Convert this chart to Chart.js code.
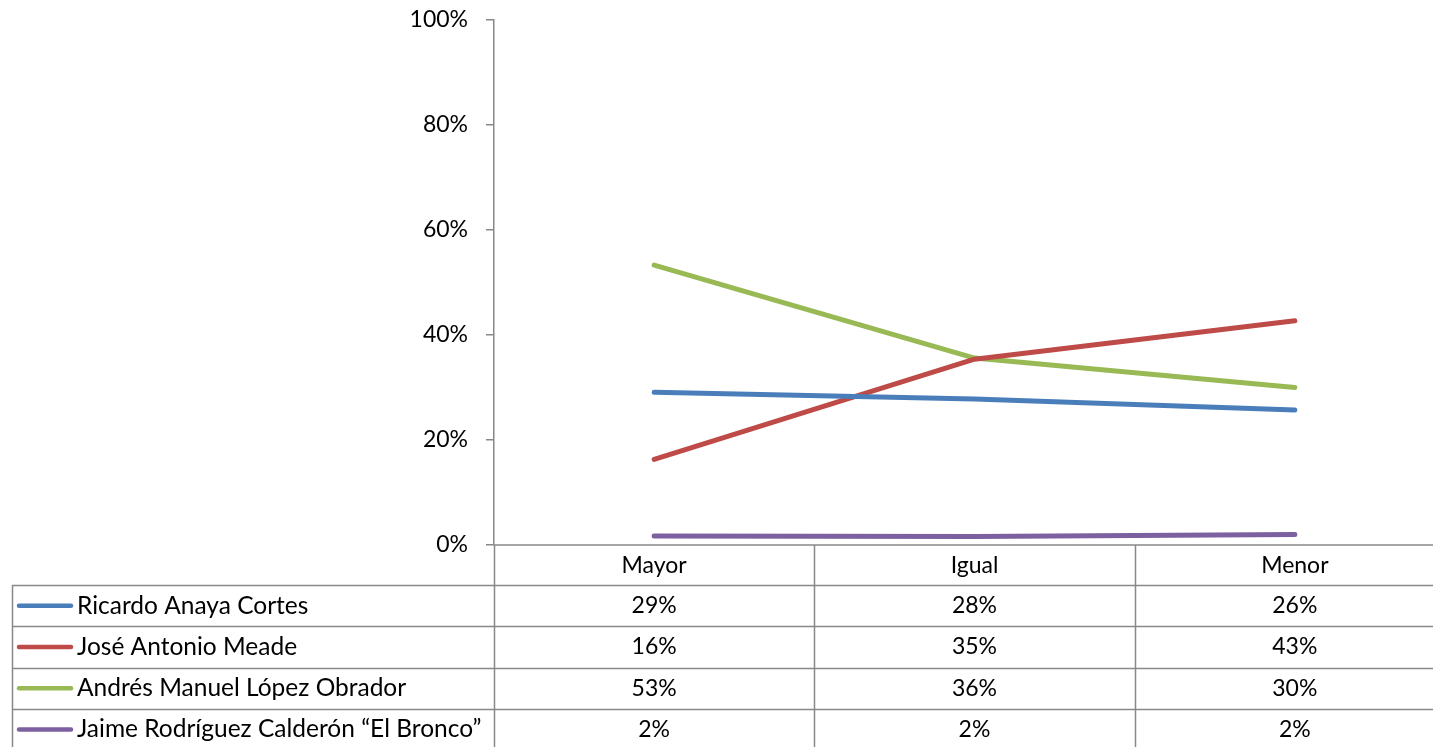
<!DOCTYPE html>
<html>
<head>
<meta charset="utf-8">
<script src="https://cdn.jsdelivr.net/npm/chart.js@4.4.1/dist/chart.umd.min.js"></script>
<style>
  html, body { margin: 0; padding: 0; background: #ffffff; overflow: hidden; }
  #chart-container { width: 1460px; height: 747px; }
</style>
</head>
<body>
<div id="chart-container"><canvas id="chart" width="1460" height="747"></canvas></div>
<script>
// categories and series (percent)
var categories = ['Mayor', 'Igual', 'Menor'];
var seriesNames = ['Ricardo Anaya Cortes', 'José Antonio Meade', 'Andrés Manuel López Obrador', 'Jaime Rodríguez Calderón “El Bronco”'];
var anaya = [29.1, 27.8, 25.7];
var meade = [16.3, 35.4, 42.7];
var amlo = [53.3, 35.6, 30.0];
var bronco = [1.7, 1.6, 2.0];
var yTicks = [0, 20, 40, 60, 80, 100];
var colors = ['#4a7ebb', '#be4b48', '#98b954', '#7d60a0'];

var FONT = 'Lato, "Open Sans", sans-serif';
var GRID = '#888888';

var allSeries = [anaya, meade, amlo, bronco];

// draws the data table below the plot (Excel style)
var dataTablePlugin = {
  id: 'dataTable',
  afterDraw: function(chart) {
    var ctx = chart.ctx;
    var area = chart.chartArea;
    var xs = chart.scales.x;
    var top = area.bottom;
    var rowH = 41.2;
    var tableLeft = 12;
    var band = xs.getPixelForValue(1) - xs.getPixelForValue(0);

    ctx.save();
    ctx.strokeStyle = GRID;
    ctx.lineWidth = 1.5;

    // horizontal lines
    ctx.beginPath();
    ctx.moveTo(area.left, top);
    ctx.lineTo(area.right, top);
    for (var r = 1; r <= 4; r++) {
      var y = Math.round(top - 1 + r * rowH) + 0.5;
      ctx.moveTo(tableLeft, y);
      ctx.lineTo(area.right, y);
    }
    // vertical lines
    ctx.moveTo(tableLeft + 0.5, top + rowH - 1);
    ctx.lineTo(tableLeft + 0.5, chart.height);
    for (var c = 0; c < categories.length; c++) {
      var xb = Math.round(xs.getPixelForValue(c) - band / 2) + 0.5;
      ctx.moveTo(xb, top);
      ctx.lineTo(xb, chart.height);
    }
    ctx.stroke();

    ctx.fillStyle = '#000000';
    ctx.textAlign = 'center';
    ctx.textBaseline = 'middle';
    ctx.font = '23px ' + FONT;
    categories.forEach(function(cat, i) {
      ctx.fillText(cat, xs.getPixelForValue(i), top + rowH / 2);
    });

    seriesNames.forEach(function(name, s) {
      var cy = top - 1 + (s + 1) * rowH + rowH / 2;
      // legend key
      ctx.strokeStyle = colors[s];
      ctx.lineWidth = 4.5;
      ctx.lineCap = 'round';
      ctx.beginPath();
      ctx.moveTo(19, cy);
      ctx.lineTo(71, cy);
      ctx.stroke();
      ctx.textAlign = 'left';
      ctx.font = '24.5px ' + FONT;
      ctx.fillText(name, 77, cy);
      ctx.textAlign = 'center';
      ctx.font = '23px ' + FONT;
      allSeries[s].forEach(function(v, i) {
        ctx.fillText(Math.round(v) + '%', xs.getPixelForValue(i), cy);
      });
    });
    ctx.restore();
  }
};

var ctx = document.getElementById('chart').getContext('2d');
var chart = new Chart(ctx, {
  type: 'line',
  data: {
    labels: categories,
    datasets: seriesNames.map(function(name, s) {
      return {
        label: name,
        data: allSeries[s],
        borderColor: colors[s],
        backgroundColor: colors[s],
        borderWidth: 5,
        borderCapStyle: 'round',
        borderJoinStyle: 'round',
        pointRadius: 0,
        tension: 0
      };
    })
  },
  options: {
    responsive: false,
    animation: false,
    layout: { padding: { top: 20, bottom: 202, left: 0, right: 5 } },
    plugins: {
      legend: { display: false },
      tooltip: { enabled: false }
    },
    scales: {
      x: {
        type: 'category',
        offset: true,
        display: false
      },
      y: {
        min: 0,
        max: 100,
        afterFit: function(scale) {
          scale.width = 494;
          scale.paddingTop = 0;
          scale.paddingBottom = 0;
        },
        afterBuildTicks: function(scale) {
          scale.ticks = yTicks.map(function(v) { return { value: v }; });
        },
        grid: {
          drawOnChartArea: false,
          drawTicks: true,
          tickLength: 8,
          color: GRID,
          lineWidth: 1.5
        },
        border: { color: GRID, width: 1.5 },
        ticks: {
          color: '#000000',
          padding: 18,
          font: { family: FONT, size: 23 },
          callback: function(v) { return v + '%'; }
        }
      }
    }
  },
  plugins: [dataTablePlugin]
});
</script>
</body>
</html>
